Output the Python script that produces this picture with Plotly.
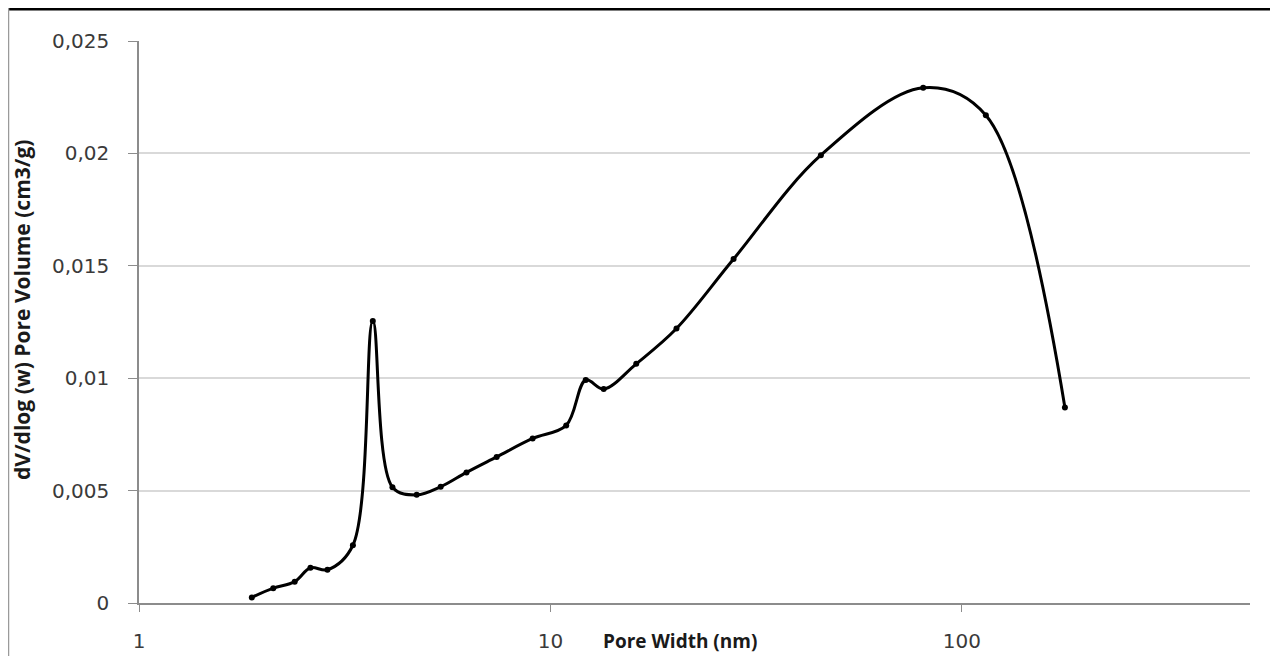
import plotly.graph_objects as go

# Data
pore_width_nm = [1.88, 2.12, 2.39, 2.61, 2.87, 3.31, 3.70, 4.13, 4.73, 5.41, 6.25, 7.40,
                 9.05, 10.92, 12.18, 13.47, 16.16, 20.24, 27.86, 45.4, 80.5, 114.3, 177.9]
pore_volume = [0.00025, 0.00066, 0.00095, 0.00157, 0.00148, 0.00257, 0.01255, 0.00515,
               0.00481, 0.00517, 0.00581, 0.00650, 0.00732, 0.00790, 0.00992, 0.00952,
               0.01064, 0.01221, 0.01530, 0.01992, 0.02292, 0.02170, 0.00870]

x_tick_vals = [1, 10, 100]
x_tick_text = ["1", "10", "100"]
y_tick_vals = [0, 0.005, 0.01, 0.015, 0.02, 0.025]
y_tick_text = ["0", "0,005", "0,01", "0,015", "0,02", "0,025"]

# The page body has an 8px default margin; lay the figure out so that the
# plot area lands on the same screen pixels as the reference.
OFF = 8
W, H = 1278 - OFF, 656 - OFF
ML, MT = 139 - OFF, 41 - OFF
MR = W - (1250 - OFF)
MB = H - (603 - OFF)
PW, PH = W - ML - MR, H - MT - MB

def px_x(p):  # screen pixel -> paper x
    return (p - OFF - ML) / PW

def px_y(p):  # screen pixel -> paper y
    return (H - MB - (p - OFF)) / PH

fig = go.Figure()
fig.add_trace(go.Scatter(
    x=pore_width_nm, y=pore_volume,
    mode="lines+markers",
    line=dict(color="black", width=3, shape="spline", smoothing=1.0),
    marker=dict(color="black", size=6),
    showlegend=False,
))

tick_font = dict(family="DejaVu Sans", size=20, color="#3a3a3a")

fig.update_xaxes(
    type="log", range=[0, 2.70], automargin=False,
    tickvals=x_tick_vals, ticktext=x_tick_text,
    showgrid=False, zeroline=False,
    showline=True, linecolor="#8c8c8c", linewidth=1.5,
    ticks="outside", ticklen=7, tickcolor="#8c8c8c", tickwidth=1,
    tickfont=tick_font, ticklabelstandoff=12,
)
fig.update_yaxes(
    range=[0, 0.025], automargin=False,
    tickvals=y_tick_vals, ticktext=y_tick_text,
    showgrid=True, gridcolor="#d9d9d9", gridwidth=1.5,
    zeroline=False,
    showline=True, linecolor="#8c8c8c", linewidth=1.5,
    ticks="outside", ticklen=9, tickcolor="#8c8c8c", tickwidth=1,
    tickfont=tick_font, ticklabelstandoff=15,
)

fig.update_layout(
    width=W, height=H,
    margin=dict(l=ML, r=MR, t=MT, b=MB, pad=0, autoexpand=False),
    paper_bgcolor="white", plot_bgcolor="white",
    annotations=[
        dict(text="Pore Width (nm)", xref="paper", yref="paper",
             x=px_x(680), y=px_y(641), xanchor="center", yanchor="middle",
             showarrow=False,
             font=dict(family="Open Sans", size=19, color="#1a1a1a", weight="bold")),
        dict(text="dV/dlog (w) Pore Volume (cm3/g)", xref="paper", yref="paper",
             x=px_x(22), y=px_y(310), xanchor="center", yanchor="middle",
             textangle=-90, showarrow=False,
             font=dict(family="Open Sans", size=21, color="#1a1a1a", weight="bold")),
    ],
    shapes=[
        dict(type="line", xref="paper", yref="paper",
             x0=px_x(OFF), x1=px_x(1278), y0=px_y(OFF + 1), y1=px_y(OFF + 1),
             line=dict(color="black", width=3)),
        dict(type="line", xref="paper", yref="paper",
             x0=px_x(OFF + 0.5), x1=px_x(OFF + 0.5), y0=px_y(OFF), y1=px_y(656),
             line=dict(color="#9a9a9a", width=1.5)),
    ],
)

fig.write_html("out.html")
